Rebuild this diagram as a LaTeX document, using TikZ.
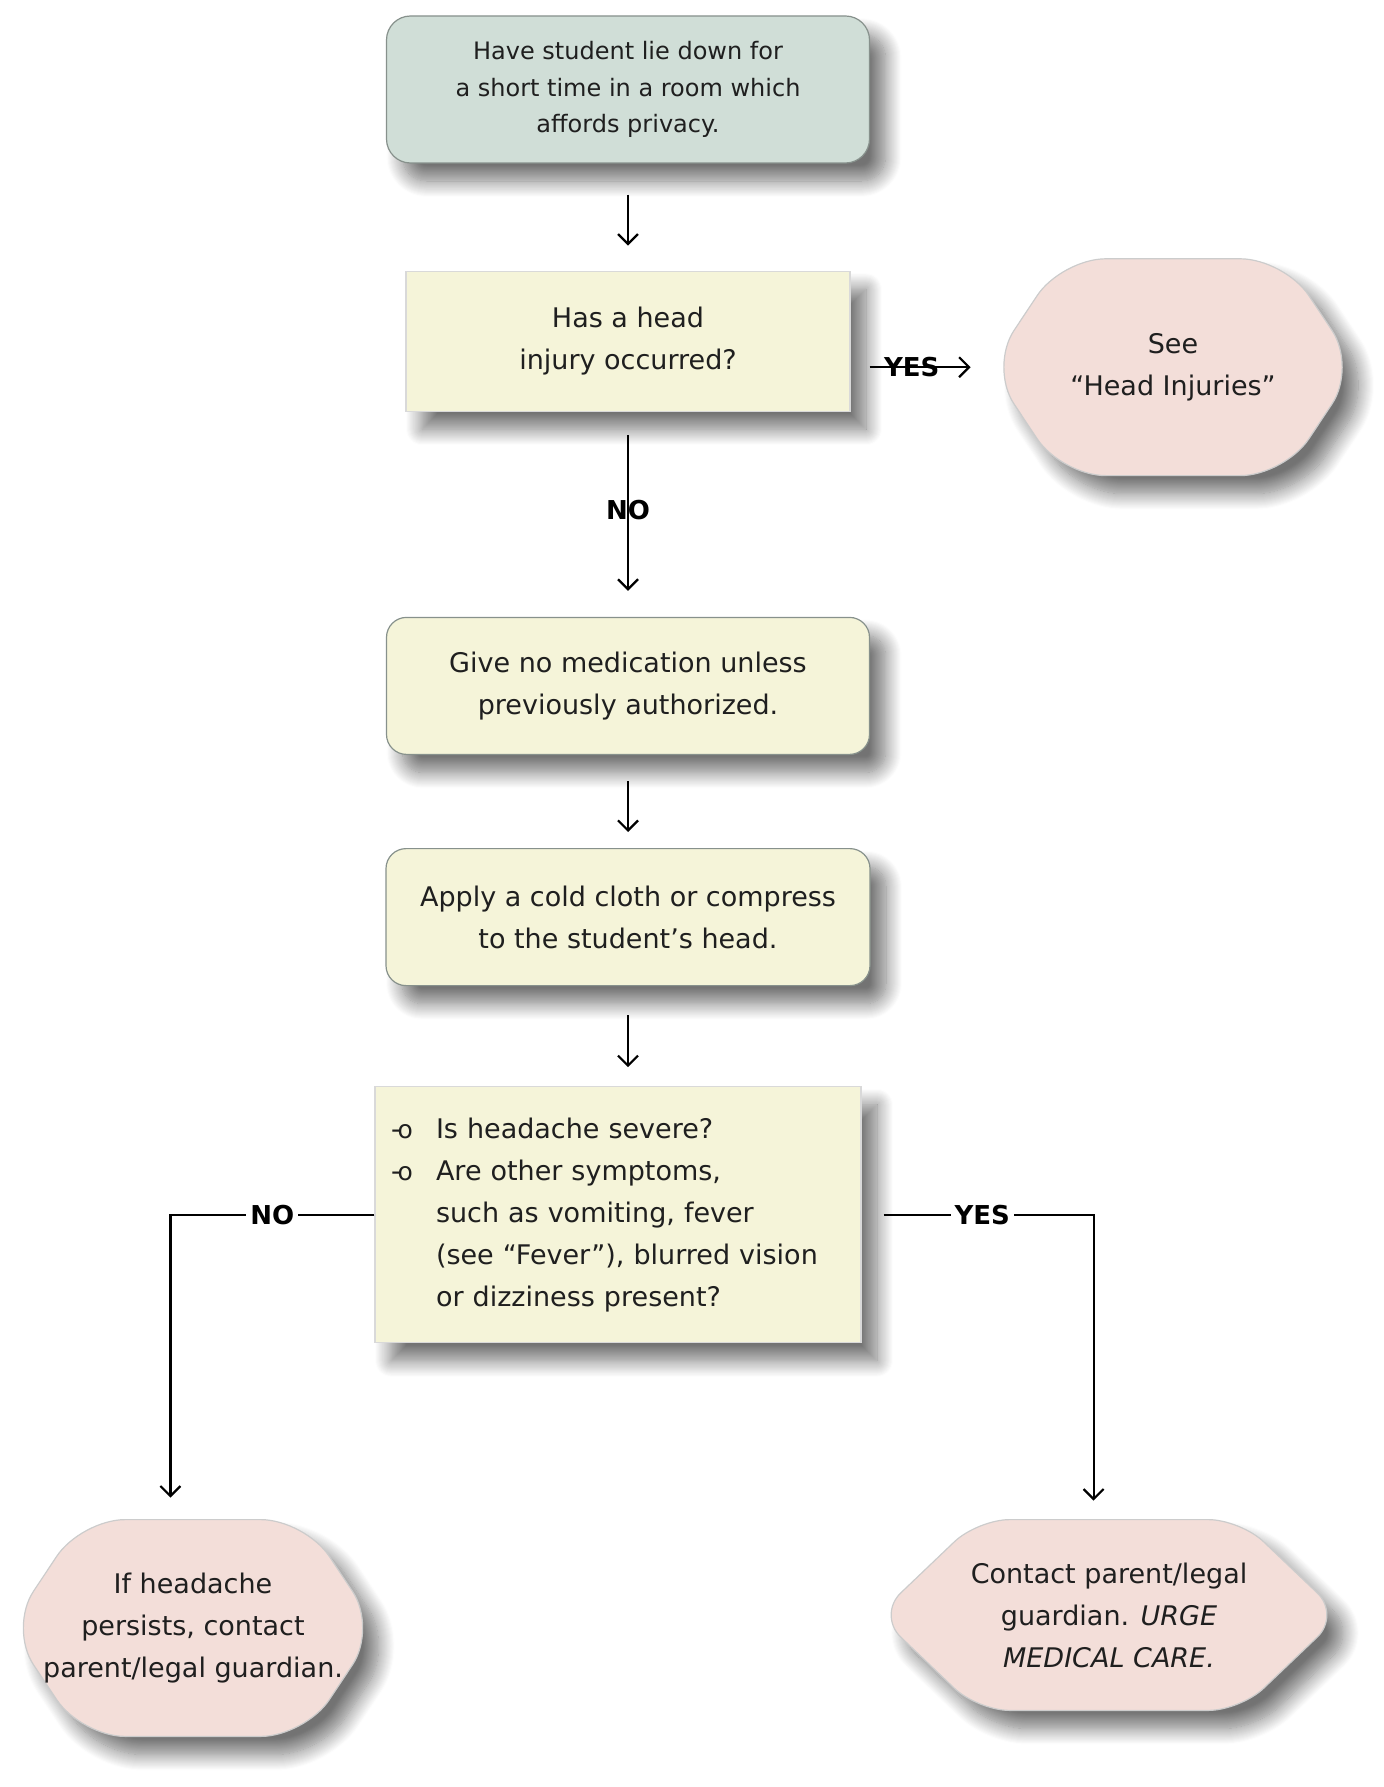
\documentclass[tikz,border=0pt]{standalone}
\usepackage{fontspec}
\setmainfont{DejaVu Sans}
\usepackage{tikz}
\usetikzlibrary{positioning,calc}
\usetikzlibrary{arrows.meta}
\usetikzlibrary{shadows.blur}

\definecolor{stepgreen}{RGB}{208,222,215}
\definecolor{stepcream}{RGB}{245,244,217}
\definecolor{steppink}{RGB}{243,222,217}
\definecolor{stepedge}{RGB}{135,145,140}

\pgfdeclarelayer{background}
\pgfsetlayers{background,main}

% bullet of the question box
\newcommand{\qbullet}{\makebox[22.5pt][l]{-\kern-1.6pt{\fontsize{12.5}{12}\selectfont o}}}
\newcommand{\qindent}{\hspace*{22.5pt}}

\begin{document}
\begin{tikzpicture}[x=0.5pt, y=-0.5pt,
         shadowed/.style = {blur shadow={shadow xshift=8pt, shadow yshift=-9pt,
         shadow blur radius=8pt, shadow blur steps=16, shadow opacity=55}},
         stepbase/.style = {shadowed, draw=stepedge, line width=0.6pt, align=center,
         text=black!88, font=\fontsize{13.5}{21}\selectfont},
         greenbox/.style = {stepbase, fill=stepgreen, rounded corners=12pt,
         font=\fontsize{12}{18.25}\selectfont},
         creambox/.style = {stepbase, fill=stepcream, rounded corners=10pt},
         askbox/.style = {stepbase, fill=stepcream, draw=black!15},
         endbox/.style = {align=center, text=black!88, inner sep=0pt,
         font=\fontsize{13.5}{21}\selectfont},
         endfill/.style = {shadowed, fill=steppink, draw=black!20, line width=0.6pt},
         arr/.style = {line width=1.1pt, -{Straight Barb[length=5pt,width=10pt]}},
         lbl/.style = {font=\fontsize{13}{15}\selectfont\bfseries, inner sep=2pt}]

      \useasboundingbox (0,0) rectangle (1383,1787);

      % main column
      \node[greenbox, minimum width=241.5pt, minimum height=73.5pt] (start) at (628,89.5)
         {Have student lie down for\\a short time in a room which\\affords privacy.};
      \node[askbox, minimum width=222pt, minimum height=70pt, below=53.5pt of start] (injury)
         {Has a head\\injury occurred?};
      \node[creambox, minimum width=241.5pt, minimum height=68.5pt, below=102.5pt of injury] (medic)
         {Give no medication unless\\previously authorized.};
      \node[creambox, minimum width=242pt, minimum height=68.5pt, below=46.5pt of medic] (cloth)
         {Apply a cold cloth or compress\\to the student’s head.};
      \node[askbox, minimum width=243pt, minimum height=128pt, text width=227pt, align=left,
         below=50pt of cloth, xshift=-5pt] (quest)
         {\qbullet Is headache severe?\\
          \qbullet Are other symptoms,\\
          \qindent such as vomiting, fever\\
          \qindent (see “Fever”), blurred vision\\
          \qindent or dizziness present?};

      % end points
      \node[endbox, minimum width=183pt, minimum height=108pt, right=69.5pt of injury,
         yshift=-13pt] (seeinj) {See\\“Head Injuries”};
      \node[endbox, minimum width=183.5pt, minimum height=108pt] (persist) at (193,1628)
         {If headache\\persists, contact\\parent/legal guardian.};
      \node[endbox, minimum width=231pt, minimum height=95pt] (urge) at (1109,1615)
         {Contact parent/legal\\guardian. \textit{URGE}\\\textit{MEDICAL CARE.}};

      \begin{pgfonlayer}{background}
         \fill[endfill, rounded corners=22pt] (seeinj.north) -- ([xshift=-36pt]seeinj.north east)
            -- (seeinj.east) -- ([xshift=-36pt]seeinj.south east)
            -- ([xshift=36pt]seeinj.south west) -- (seeinj.west)
            -- ([xshift=36pt]seeinj.north west) -- cycle;
         \fill[endfill, rounded corners=22pt] (persist.north) -- ([xshift=-36pt]persist.north east)
            -- (persist.east) -- ([xshift=-36pt]persist.south east)
            -- ([xshift=36pt]persist.south west) -- (persist.west)
            -- ([xshift=36pt]persist.north west) -- cycle;
         \fill[endfill, rounded corners=16pt] (urge.north) -- ([xshift=-50pt]urge.north east)
            -- (urge.east) -- ([xshift=-50pt]urge.south east)
            -- ([xshift=50pt]urge.south west) -- (urge.west)
            -- ([xshift=50pt]urge.north west) -- cycle;
      \end{pgfonlayer}

      % arrows down the column
      \draw[arr, shorten <=15.5pt, shorten >=12.5pt] (start) -- (injury);
      \draw[arr, shorten <=11.5pt, shorten >=13pt] (injury) -- node[lbl, pos=0.48] {NO} (medic);
      \draw[arr, shorten <=13pt, shorten >=8pt] (medic) -- (cloth);
      \draw[arr, shorten <=14.5pt, shorten >=9.5pt] (cloth.south) -- (cloth.south |- quest.north);

      % yes branch of the head injury question
      \draw[arr, shorten <=9.5pt, shorten >=9.5pt] (injury.east |- seeinj.west) -- node[lbl, pos=0.44] {YES} (seeinj.west);

      % branches of the last question
      \coordinate[left=102pt of quest.west]   (nocorner);
      \coordinate[right=116pt of quest.east]  (yescorner);
      \draw[arr, shorten >=11pt] (quest.west) -- node[lbl, fill=white] {NO} (nocorner)
         -- (nocorner |- persist.north);
      \draw[arr, shorten <=11pt, shorten >=9.5pt] (quest.east) -- node[lbl, fill=white, pos=0.52] {YES} (yescorner)
         -- (yescorner |- urge.north);

\end{tikzpicture}
\end{document}
